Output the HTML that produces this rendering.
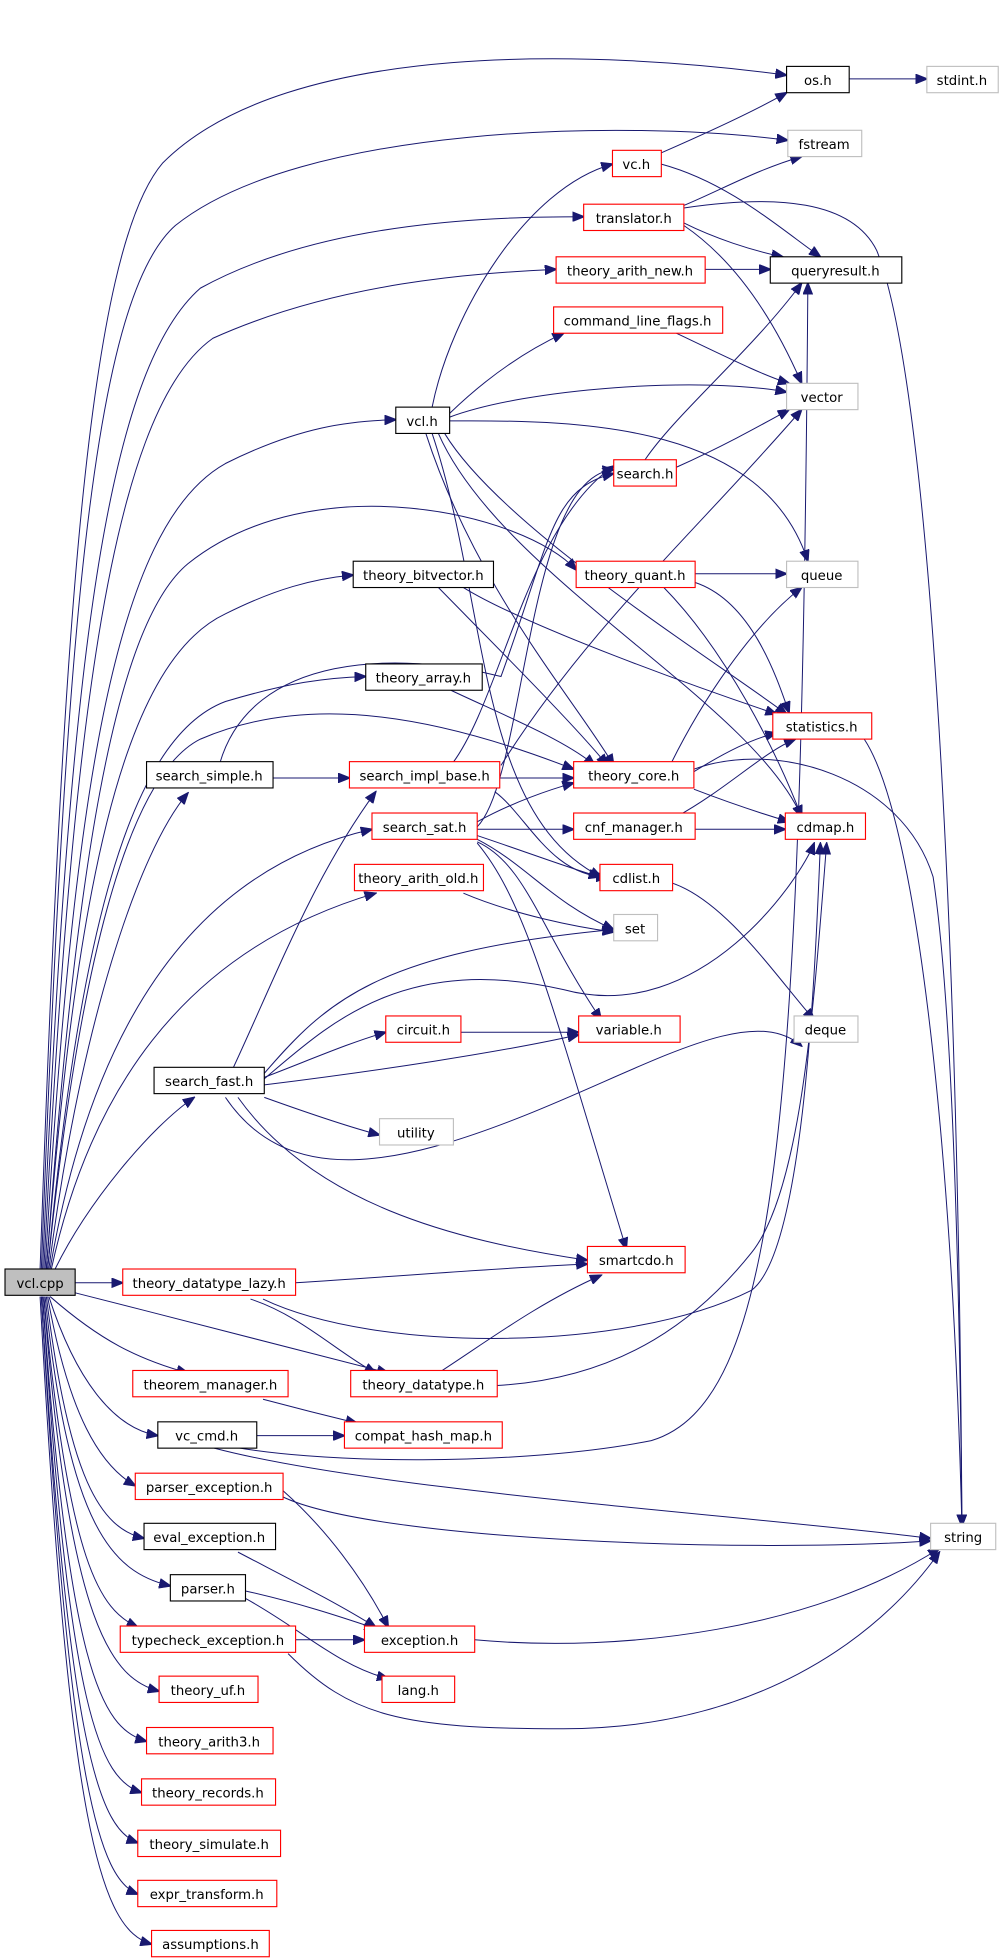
<!DOCTYPE html>
<html><head><meta charset="utf-8"><style>
html,body{margin:0;padding:0;background:#fff;}
svg{display:block;}
text{font-family:"DejaVu Sans","Liberation Sans",sans-serif;font-size:10.6px;fill:#000;text-anchor:middle;}
.e{fill:none;stroke:#191970;stroke-width:0.8;}
.n{fill:#fff;stroke:#000;stroke-width:0.9;}
.r{fill:#fff;stroke:#ff0000;stroke-width:0.9;}
.g{fill:#fff;stroke:#bfbfbf;stroke-width:0.9;}
</style></head><body>
<svg width="1002" height="1958" viewBox="0 0 800 1563" preserveAspectRatio="none" xmlns="http://www.w3.org/2000/svg">
<defs><marker id="a" markerWidth="10" markerHeight="8" refX="9" refY="4" orient="auto" markerUnits="userSpaceOnUse"><path d="M0,0 L10,4 L0,8 Z" fill="#191970" stroke="#191970" stroke-width="0.5"/></marker></defs>
<g class="e" marker-end="url(#a)">
<!-- from vcl.cpp -->
<path d="M32,1013 C50,500 70,200 130,130 C230,30 480,40 628,60"/>
<path d="M33,1013 C52,520 72,240 140,180 C240,100 500,95 629,112"/>
<path d="M34,1013 C54,560 80,300 160,230 C260,175 400,173 466,173"/>
<path d="M35,1013 C56,600 85,330 170,270 C270,225 380,218 444,215"/>
<path d="M36,1013 C58,640 90,420 180,370 C240,340 280,336 316,335"/>
<path d="M37,1013 C60,700 90,500 150,450 C250,370 420,410 460,455"/>
<path d="M37,1013 C60,720 95,530 180,490 C220,470 250,462 282,459"/>
<path d="M38,1013 C62,760 100,590 180,560 C230,545 260,541 292,540"/>
<path d="M38,1013 C62,780 100,620 160,590 C230,560 320,560 458,614"/>
<path d="M39,1013 C64,820 110,680 150,633"/>
<path d="M40,1013 C66,860 130,700 297,662"/>
<path d="M41,1013 C70,880 140,760 300,713"/>
<path d="M44,1013 C70,960 120,900 155,876"/>
<path d="M60,1024 L98,1024"/>
<path d="M40,1035 C80,1070 110,1085 150,1096"/>
<path d="M60,1032 C150,1055 250,1080 310,1096"/>
<path d="M39,1035 C60,1100 90,1140 126,1146"/>
<path d="M38,1035 C55,1130 80,1170 108,1186"/>
<path d="M37,1035 C55,1180 80,1220 115,1228"/>
<path d="M36,1035 C55,1220 90,1255 136,1266"/>
<path d="M35,1035 C55,1250 80,1285 110,1299"/>
<path d="M35,1035 C55,1300 90,1340 127,1350"/>
<path d="M34,1035 C55,1330 80,1380 117,1390"/>
<path d="M34,1035 C55,1370 80,1420 113,1431"/>
<path d="M33,1035 C55,1400 80,1460 110,1471"/>
<path d="M33,1035 C55,1430 80,1500 110,1512"/>
<path d="M32,1035 C55,1460 80,1540 121,1552"/>
<!-- os / vc -->
<path d="M678,63 L740,63"/>
<path d="M528,122 C560,108 600,90 628,74"/>
<path d="M528,131 C580,145 620,180 655,205"/>
<!-- translator -->
<path d="M546,164 C575,152 605,135 640,125"/>
<path d="M546,178 C570,190 600,200 625,205"/>
<path d="M546,180 C590,210 620,260 640,306"/>
<path d="M546,166 C620,155 680,160 700,200 C740,300 765,700 768,1218"/>
<path d="M563,215 L615,215"/>
<!-- command line flags -->
<path d="M540,266 C580,285 610,300 630,306"/>
<!-- vcl.h -->
<path d="M345,325 C360,250 420,150 489,131"/>
<path d="M359,330 C390,300 420,280 450,266"/>
<path d="M359,333 C420,310 560,300 628,313"/>
<path d="M359,336 C470,335 610,340 645,448"/>
<path d="M355,346 C400,420 560,520 628,570"/>
<path d="M350,346 C400,460 600,560 640,652"/>
<path d="M345,346 C390,480 380,650 480,700"/>
<path d="M340,346 C380,470 460,560 490,611"/>
<!-- search.h -->
<path d="M515,367 C540,330 600,280 640,226"/>
<path d="M540,373 C580,355 610,338 630,327"/>
<!-- theory_quant -->
<path d="M555,458 L628,458"/>
<path d="M555,465 C600,480 620,540 630,569"/>
<path d="M530,469 C580,520 620,600 640,652"/>
<!-- theory_bitvector -->
<path d="M370,469 C420,500 560,550 620,570"/>
<path d="M350,469 C400,520 460,580 485,611"/>
<path d="M360,551 C400,570 450,590 475,611"/>
<!-- search_simple -->
<path d="M218,621 L279,621"/>
<path d="M175,611 C200,520 320,520 400,540 C440,430 440,390 490,378"/>
<!-- search_impl_base -->
<path d="M399,621 L458,621"/>
<path d="M360,611 C400,560 420,420 490,372"/>
<path d="M400,611 C470,500 560,420 640,327"/>
<path d="M395,632 C420,650 440,700 485,700"/>
<!-- theory_core -->
<path d="M554,616 C580,600 600,590 620,585"/>
<path d="M554,630 C580,640 610,650 630,656"/>
<path d="M535,611 C560,560 600,500 640,469"/>
<path d="M554,614 C620,590 720,620 745,700 C760,800 766,1000 768,1218"/>
<!-- search_sat -->
<path d="M381,656 C410,640 440,630 458,625"/>
<path d="M381,662 L458,662"/>
<path d="M381,667 C420,680 460,695 479,700"/>
<path d="M381,670 C420,690 440,720 490,742"/>
<path d="M381,672 C420,690 430,740 480,814"/>
<path d="M381,673 C420,720 440,800 500,997"/>
<path d="M381,660 C420,620 420,380 490,375"/>
<!-- cnf_manager -->
<path d="M555,662 L627,662"/>
<path d="M540,652 C580,630 610,600 635,590"/>
<!-- cdlist / arith_old -->
<path d="M537,705 C580,720 620,780 650,814"/>
<path d="M370,713 C410,730 460,740 490,744"/>
<!-- search_fast -->
<path d="M185,855 C220,780 250,700 300,632"/>
<path d="M211,860 C250,845 280,832 308,824"/>
<path d="M211,866 C300,855 400,840 462,826"/>
<path d="M211,876 C250,890 280,900 303,906"/>
<path d="M180,876 C230,950 320,930 420,890 C520,850 600,800 640,835"/>
<path d="M190,876 C250,960 360,990 469,1006"/>
<path d="M210,858 C260,800 300,760 490,742"/>
<path d="M210,862 C260,820 320,760 450,790 C560,820 640,700 650,673"/>
<path d="M368,824 L462,824"/>
<!-- datatype lazy -->
<path d="M236,1024 C330,1018 400,1012 469,1009"/>
<path d="M200,1037 C240,1050 270,1080 300,1096"/>
<path d="M210,1037 C300,1080 500,1080 600,1030 C640,1000 650,800 655,673"/>
<path d="M350,1096 C390,1070 430,1040 480,1018"/>
<path d="M397,1106 C500,1100 560,1050 600,1000 C640,950 650,800 660,673"/>
<path d="M210,1117 C240,1125 260,1130 285,1136"/>
<!-- vc_cmd -->
<path d="M171,1146 L275,1146"/>
<path d="M171,1152 C250,1170 420,1170 520,1150 C620,1120 640,900 645,226"/>
<path d="M171,1156 C300,1190 600,1210 743,1228"/>
<!-- exceptions -->
<path d="M226,1190 C260,1220 290,1260 310,1299"/>
<path d="M226,1195 C300,1230 600,1240 743,1230"/>
<path d="M190,1239 C230,1260 270,1280 300,1299"/>
<path d="M196,1270 C240,1280 270,1290 300,1300"/>
<path d="M196,1276 C240,1300 270,1330 310,1340"/>
<path d="M236,1309 L291,1309"/>
<path d="M230,1320 C280,1370 320,1380 450,1380 C600,1380 700,1310 750,1239"/>
<path d="M379,1309 C500,1320 650,1300 750,1236"/>
<path d="M690,590 C730,650 760,900 768,1218"/>
</g>
<!-- nodes -->
<g>
<rect x="4" y="1013" width="56" height="21" fill="#bfbfbf" stroke="#000" stroke-width="0.9"/><text x="32" y="1028">vcl.cpp</text>
<rect class="n" x="628" y="53" width="50" height="21"/><text x="653" y="68">os.h</text>
<rect class="g" x="740" y="53" width="57" height="21"/><text x="768" y="68">stdint.h</text>
<rect class="g" x="629" y="104" width="59" height="21"/><text x="658" y="119">fstream</text>
<rect class="r" x="489" y="120" width="39" height="21"/><text x="508" y="135">vc.h</text>
<rect class="r" x="466" y="163" width="80" height="21"/><text x="506" y="178">translator.h</text>
<rect class="r" x="444" y="205" width="119" height="21"/><text x="503" y="220">theory_arith_new.h</text>
<rect class="n" x="615" y="205" width="105" height="21"/><text x="667" y="220">queryresult.h</text>
<rect class="r" x="442" y="245" width="135" height="21"/><text x="509" y="260">command_line_flags.h</text>
<rect class="g" x="628" y="306" width="57" height="21"/><text x="656" y="321">vector</text>
<rect class="n" x="316" y="325" width="43" height="21"/><text x="337" y="340">vcl.h</text>
<rect class="r" x="490" y="367" width="50" height="21"/><text x="515" y="382">search.h</text>
<rect class="g" x="628" y="448" width="57" height="21"/><text x="656" y="463">queue</text>
<rect class="n" x="282" y="448" width="112" height="21"/><text x="338" y="463">theory_bitvector.h</text>
<rect class="r" x="460" y="448" width="95" height="21"/><text x="507" y="463">theory_quant.h</text>
<rect class="n" x="292" y="530" width="93" height="21"/><text x="338" y="545">theory_array.h</text>
<rect class="r" x="617" y="569" width="79" height="21"/><text x="656" y="584">statistics.h</text>
<rect class="n" x="117" y="608" width="101" height="21"/><text x="167" y="623">search_simple.h</text>
<rect class="r" x="279" y="608" width="120" height="21"/><text x="339" y="623">search_impl_base.h</text>
<rect class="r" x="458" y="608" width="96" height="21"/><text x="506" y="623">theory_core.h</text>
<rect class="r" x="297" y="649" width="84" height="21"/><text x="339" y="664">search_sat.h</text>
<rect class="r" x="458" y="649" width="97" height="21"/><text x="506" y="664">cnf_manager.h</text>
<rect class="r" x="627" y="649" width="64" height="21"/><text x="659" y="664">cdmap.h</text>
<rect class="r" x="479" y="690" width="58" height="21"/><text x="508" y="705">cdlist.h</text>
<rect class="r" x="283" y="690" width="103" height="21"/><text x="334" y="705">theory_arith_old.h</text>
<rect class="g" x="490" y="730" width="35" height="21"/><text x="507" y="745">set</text>
<rect class="g" x="634" y="811" width="51" height="21"/><text x="659" y="826">deque</text>
<rect class="r" x="308" y="811" width="60" height="21"/><text x="338" y="826">circuit.h</text>
<rect class="r" x="462" y="811" width="81" height="21"/><text x="502" y="826">variable.h</text>
<rect class="n" x="123" y="852" width="88" height="21"/><text x="167" y="867">search_fast.h</text>
<rect class="g" x="303" y="893" width="59" height="21"/><text x="332" y="908">utility</text>
<rect class="r" x="469" y="995" width="78" height="21"/><text x="508" y="1010">smartcdo.h</text>
<rect class="r" x="98" y="1013" width="138" height="21"/><text x="167" y="1028">theory_datatype_lazy.h</text>
<rect class="r" x="106" y="1094" width="124" height="21"/><text x="168" y="1109">theorem_manager.h</text>
<rect class="r" x="280" y="1094" width="117" height="21"/><text x="338" y="1109">theory_datatype.h</text>
<rect class="n" x="126" y="1135" width="79" height="21"/><text x="165" y="1150">vc_cmd.h</text>
<rect class="r" x="275" y="1135" width="126" height="21"/><text x="338" y="1150">compat_hash_map.h</text>
<rect class="r" x="108" y="1176" width="118" height="21"/><text x="167" y="1191">parser_exception.h</text>
<rect class="g" x="743" y="1216" width="52" height="21"/><text x="769" y="1231">string</text>
<rect class="n" x="115" y="1216" width="105" height="21"/><text x="167" y="1231">eval_exception.h</text>
<rect class="n" x="136" y="1257" width="60" height="21"/><text x="166" y="1272">parser.h</text>
<rect class="r" x="291" y="1298" width="88" height="21"/><text x="335" y="1313">exception.h</text>
<rect class="r" x="96" y="1298" width="140" height="21"/><text x="166" y="1313">typecheck_exception.h</text>
<rect class="r" x="305" y="1338" width="58" height="21"/><text x="334" y="1353">lang.h</text>
<rect class="r" x="127" y="1338" width="79" height="21"/><text x="166" y="1353">theory_uf.h</text>
<rect class="r" x="117" y="1379" width="101" height="21"/><text x="167" y="1394">theory_arith3.h</text>
<rect class="r" x="113" y="1420" width="107" height="21"/><text x="166" y="1435">theory_records.h</text>
<rect class="r" x="110" y="1461" width="114" height="21"/><text x="167" y="1476">theory_simulate.h</text>
<rect class="r" x="110" y="1501" width="111" height="21"/><text x="165" y="1516">expr_transform.h</text>
<rect class="r" x="121" y="1541" width="94" height="21"/><text x="168" y="1556">assumptions.h</text>
</g>
</svg>
</body></html>
